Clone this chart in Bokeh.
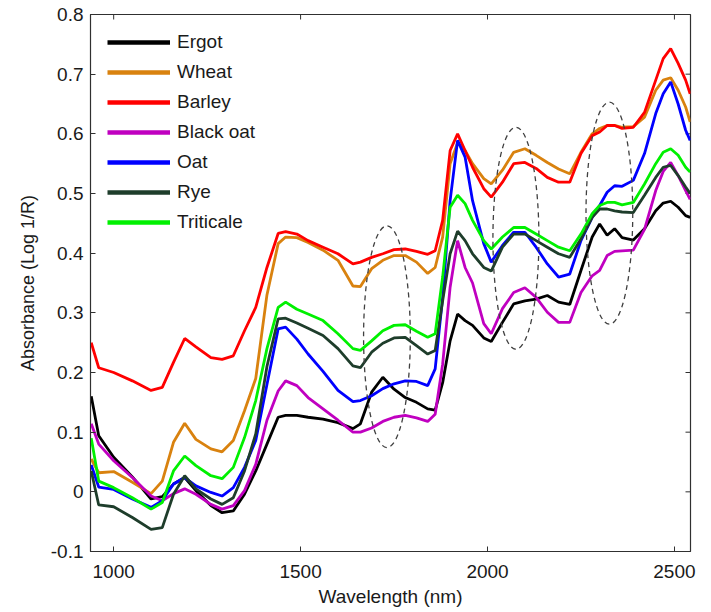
from bokeh.plotting import figure
from bokeh.models import (Range1d, FixedTicker, Legend, LegendItem, CustomJSTickFormatter)
from bokeh.embed import file_html
from bokeh.resources import INLINE

# ---------------- data ----------------
wavelength = [940, 960, 1000, 1050, 1100, 1130, 1160, 1190, 1220, 1260, 1290, 1320, 1350, 1380, 1410,
              1440, 1460, 1490, 1520, 1560, 1600, 1640, 1660, 1690, 1720, 1750, 1780, 1810, 1840, 1860,
              1880, 1900, 1920, 1940, 1960, 1990, 2010, 2040, 2070, 2100, 2130, 2160, 2190, 2220, 2250,
              2280, 2300, 2320, 2340, 2360, 2390, 2420, 2450, 2470, 2490, 2510, 2530, 2542]

ergot = [0.16, 0.094, 0.058, 0.025, -0.012, -0.008, 0.013, 0.024, 0.002, -0.023, -0.035, -0.032, -0.004, 0.035, 0.08,
         0.125, 0.128, 0.128, 0.125, 0.122, 0.116, 0.106, 0.114, 0.167, 0.192, 0.172, 0.158, 0.15, 0.139, 0.137,
         0.183, 0.253, 0.298, 0.287, 0.279, 0.258, 0.252, 0.284, 0.315, 0.32, 0.323, 0.329, 0.318, 0.314, 0.371,
         0.427, 0.449, 0.43, 0.441, 0.426, 0.422, 0.441, 0.471, 0.484, 0.487, 0.477, 0.463, 0.46]

wheat = [0.055, 0.032, 0.034, 0.016, -0.003, 0.018, 0.083, 0.115, 0.088, 0.072, 0.067, 0.086, 0.136, 0.19, 0.33,
         0.416, 0.427, 0.426, 0.418, 0.405, 0.388, 0.345, 0.344, 0.374, 0.388, 0.396, 0.396, 0.385, 0.366, 0.376,
         0.427, 0.55, 0.585, 0.572, 0.55, 0.525, 0.516, 0.539, 0.569, 0.575, 0.564, 0.552, 0.541, 0.533, 0.569,
         0.60, 0.609, 0.614, 0.614, 0.611, 0.612, 0.628, 0.673, 0.69, 0.694, 0.673, 0.645, 0.62]

barley = [0.25, 0.208, 0.20, 0.186, 0.17, 0.175, 0.217, 0.257, 0.243, 0.225, 0.222, 0.228, 0.27, 0.309, 0.376,
          0.433, 0.436, 0.432, 0.421, 0.41, 0.399, 0.382, 0.385, 0.393, 0.399, 0.406, 0.407, 0.403, 0.398, 0.404,
          0.455, 0.572, 0.60, 0.572, 0.544, 0.508, 0.494, 0.519, 0.55, 0.552, 0.542, 0.527, 0.519, 0.519, 0.567,
          0.597, 0.603, 0.614, 0.614, 0.609, 0.611, 0.636, 0.69, 0.726, 0.743, 0.718, 0.69, 0.667]

black_oat = [0.114, 0.08, 0.052, 0.024, -0.007, -0.015, -0.003, 0.005, -0.004, -0.021, -0.029, -0.023, 0.002, 0.046, 0.12,
             0.169, 0.186, 0.178, 0.158, 0.139, 0.12, 0.1, 0.1, 0.107, 0.118, 0.125, 0.128, 0.124, 0.118, 0.13,
             0.214, 0.343, 0.421, 0.376, 0.35, 0.282, 0.265, 0.307, 0.334, 0.342, 0.326, 0.301, 0.284, 0.284, 0.334,
             0.362, 0.371, 0.396, 0.403, 0.404, 0.405, 0.44, 0.505, 0.537, 0.552, 0.53, 0.505, 0.49]

oat = [0.045, 0.008, 0.004, -0.012, -0.026, -0.015, 0.013, 0.024, 0.01, -0.001, -0.007, 0.007, 0.041, 0.086, 0.18,
       0.273, 0.276, 0.256, 0.231, 0.202, 0.17, 0.151, 0.153, 0.161, 0.173, 0.181, 0.186, 0.185, 0.178, 0.206,
       0.326, 0.488, 0.589, 0.561, 0.488, 0.416, 0.385, 0.413, 0.435, 0.435, 0.41, 0.382, 0.36, 0.365, 0.421,
       0.46, 0.48, 0.502, 0.513, 0.512, 0.522, 0.567, 0.634, 0.667, 0.687, 0.65, 0.606, 0.589]

rye = [0.035, -0.022, -0.025, -0.043, -0.063, -0.06, -0.004, 0.027, 0.005, -0.012, -0.021, -0.01, 0.035, 0.097, 0.21,
       0.29, 0.291, 0.283, 0.274, 0.262, 0.24, 0.211, 0.208, 0.234, 0.249, 0.258, 0.259, 0.245, 0.231, 0.237,
       0.32, 0.399, 0.437, 0.421, 0.399, 0.376, 0.37, 0.41, 0.432, 0.432, 0.421, 0.41, 0.399, 0.393, 0.424,
       0.46, 0.474, 0.474, 0.471, 0.469, 0.468, 0.497, 0.527, 0.544, 0.547, 0.53, 0.511, 0.5]

triticale = [0.09, 0.018, 0.007, -0.01, -0.029, -0.018, 0.035, 0.06, 0.044, 0.027, 0.022, 0.041, 0.091, 0.153, 0.24,
             0.309, 0.318, 0.306, 0.298, 0.287, 0.265, 0.24, 0.237, 0.253, 0.27, 0.279, 0.28, 0.269, 0.259, 0.265,
             0.36, 0.477, 0.497, 0.483, 0.455, 0.421, 0.407, 0.427, 0.443, 0.443, 0.432, 0.421, 0.41, 0.404, 0.432,
             0.466, 0.48, 0.485, 0.485, 0.481, 0.485, 0.516, 0.55, 0.569, 0.575, 0.564, 0.544, 0.536]

series_names = ["Ergot", "Wheat", "Barley", "Black oat", "Oat", "Rye", "Triticale"]
series_values = [ergot, wheat, barley, black_oat, oat, rye, triticale]
series_colors = ["#000000", "#d9820f", "#ff0000", "#c000c0", "#0000ff", "#1e3d2b", "#00f000"]

# dashed ellipses (center wavelength, center absorbance, width nm, height)
ellipse_x = [1731, 2076, 2326]
ellipse_y = [0.26, 0.425, 0.467]
ellipse_w = [125, 123, 125]
ellipse_h = [0.372, 0.372, 0.372]

x_ticks = [1000, 1500, 2000, 2500]
y_ticks = [-0.1, 0.0, 0.1, 0.2, 0.3, 0.4, 0.5, 0.6, 0.7, 0.8]
x_min, x_max = 938, 2543
y_min, y_max = -0.1, 0.8

# ---------------- figure ----------------
FONT = "Liberation Sans"
TXT = "#1a1a1a"
AX = "#303030"

p = figure(output_backend="svg", toolbar_location=None,
           frame_width=600, frame_height=537,
           min_border_left=90, min_border_right=10, min_border_top=14, min_border_bottom=40,
           x_range=Range1d(x_min, x_max), y_range=Range1d(y_min, y_max),
           background_fill_color="white", border_fill_color="white")
p.grid.visible = False
p.outline_line_color = AX
p.outline_line_width = 1.2

fmt = CustomJSTickFormatter(code="return Math.abs(tick) < 1e-9 ? '0' : (Math.abs(tick) >= 100 ? tick.toFixed(0) : tick.toFixed(1));")

for ax in [p.xaxis[0], p.yaxis[0]]:
    ax.major_tick_in = 5
    ax.major_tick_out = 0
    ax.minor_tick_line_color = None
    ax.axis_line_color = AX
    ax.major_tick_line_color = AX
    ax.major_label_text_font = FONT
    ax.major_label_text_font_size = "19px"
    ax.major_label_text_color = TXT
    ax.axis_label_text_font = FONT
    ax.axis_label_text_font_style = "normal"
    ax.axis_label_text_color = TXT
    ax.formatter = fmt

p.xaxis[0].ticker = FixedTicker(ticks=x_ticks)
p.yaxis[0].ticker = FixedTicker(ticks=y_ticks)
p.xaxis[0].axis_label = "Wavelength (nm)"
p.yaxis[0].axis_label = "Absorbance (Log 1/R)"
p.xaxis[0].axis_label_text_font_size = "19px"
p.yaxis[0].axis_label_text_font_size = "18px"
p.xaxis[0].major_label_standoff = 13
p.xaxis[0].axis_label_standoff = 5
p.yaxis[0].major_label_standoff = 7
p.yaxis[0].axis_label_standoff = 10

# inward box ticks on top and right edges
p.ray(x=x_ticks, y=[y_max] * len(x_ticks), length=5, length_units="screen",
      angle=-90, angle_units="deg", line_color=AX, line_width=1)
p.ray(x=[x_max] * len(y_ticks), y=y_ticks, length=5, length_units="screen",
      angle=180, angle_units="deg", line_color=AX, line_width=1)

for name, vals, col in zip(series_names, series_values, series_colors):
    p.line(wavelength, vals, line_color=col, line_width=2.8)

p.ellipse(x=ellipse_x, y=ellipse_y, width=ellipse_w, height=ellipse_h,
          fill_color=None, line_color="#404040", line_width=1.3, line_dash="5 4")

# legend samples: thicker copies of the series, hidden on the plot itself
items = []
for name, vals, col in zip(series_names, series_values, series_colors):
    r = p.line(wavelength, vals, line_color=col, line_width=4.5, visible=False)
    items.append(LegendItem(label=name, renderers=[r]))

legend = Legend(items=items, location="top_left",
                glyph_width=63, glyph_height=20, label_height=20, spacing=8,
                label_standoff=7, padding=5, margin=17,
                inactive_fill_alpha=0,
                border_line_color=None, background_fill_alpha=0,
                label_text_font=FONT, label_text_font_size="19px", label_text_color=TXT)
p.add_layout(legend)

open("out.html", "w").write(file_html(p, INLINE))
